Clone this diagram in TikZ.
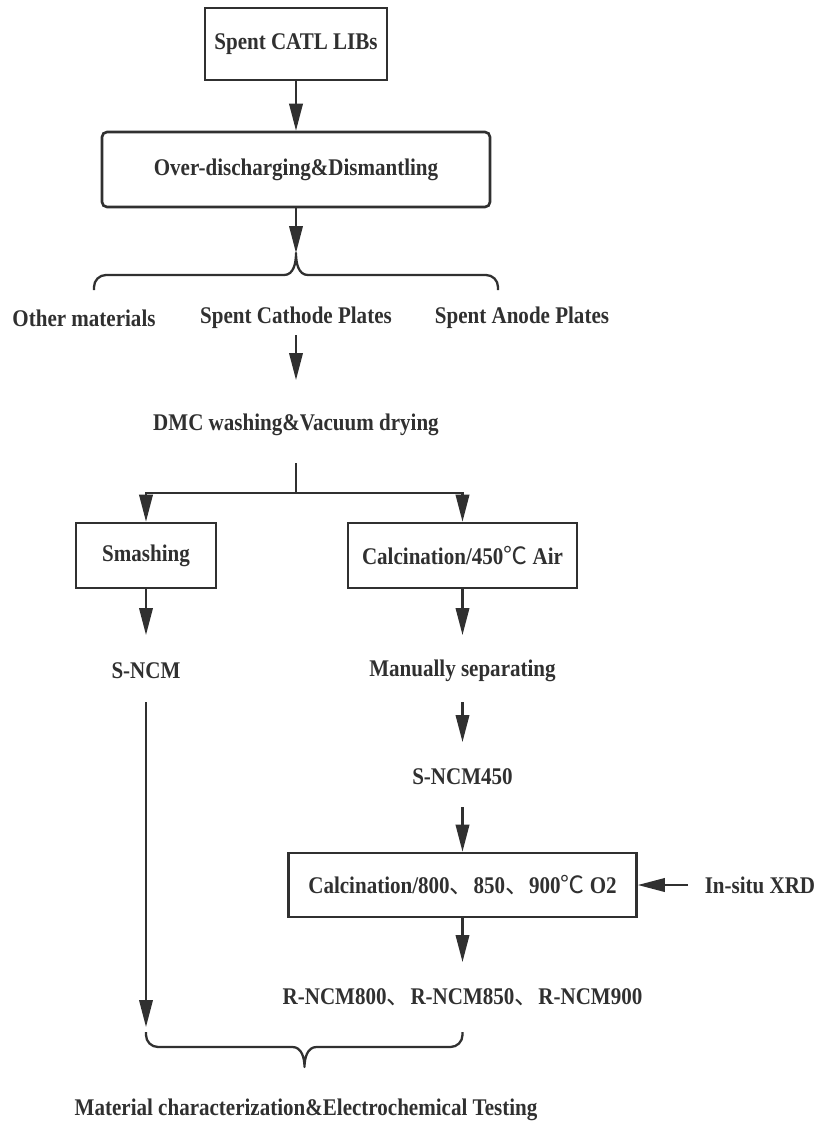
\documentclass[tikz,border=0pt]{standalone}
\usepackage{fontspec}
\setmainfont{Liberation Serif}[FakeStretch=0.88]
\newfontfamily\cjk{Noto Sans CJK SC}
\usetikzlibrary{arrows.meta}

\begin{document}
\begin{tikzpicture}[
  boxProc/.style={draw=colInk, line width=1.5pt, minimum height=1.30cm, inner sep=0pt,
    font=\fontsize{13.6}{15}\selectfont\bfseries, text=colInk},
  lbl/.style={inner sep=0pt, font=\fontsize{13.6}{15}\selectfont\bfseries, text=colInk},
  arr/.style={draw=colInk, line width=1.2pt, -{Triangle[length=0.54cm,width=0.27cm]}},
  brc/.style={draw=colInk, line width=1.3pt, line join=round}
]

% Colori
\definecolor{colInk}{HTML}{303030}

% Contorno
\useasboundingbox (0,0) rectangle (16.38,-22.48);

% Smontaggio
\node[boxProc, minimum width=3.64cm, minimum height=1.44cm] (libs) at (5.92,-0.88) {Spent CATL LIBs};
\node[boxProc, rounded corners=0.1cm, minimum width=7.76cm, minimum height=1.50cm] (dism) at (5.92,-3.39) {Over-discharging\&Dismantling};
\draw[arr] (libs) -- (dism);

% Graffa superiore
\coordinate (apice) at (5.92,-5.06);
\draw[arr] (dism) -- (apice);
\draw[brc] (1.88,-5.80) -- (1.88,-5.74) to[out=90,in=180] (2.12,-5.50) -- (5.68,-5.50)
  to[out=0,in=-90] (apice) to[out=-90,in=180] (6.16,-5.50) -- (9.72,-5.50)
  to[out=0,in=90] (9.96,-5.74) -- (9.96,-5.80);

% Componenti
\node[lbl] (other) at (1.68,-6.36) {Other materials};
\node[lbl] (cathode) at (5.92,-6.36) {Spent Cathode Plates};
\node[lbl] (anode) at (10.44,-6.36) {Spent Anode Plates};

% Lavaggio
\node[lbl] (dmc) at (5.92,-8.50) {DMC washing\&Vacuum drying};
\draw[arr, shorten <=0.34cm, shorten >=0.90cm] (cathode.center) -- (dmc.center);

% Diramazione
\coordinate (split) at (5.92,-9.86);
\node[boxProc, minimum width=2.80cm] (smash) at (2.92,-11.11) {Smashing};
\node[boxProc, minimum width=4.58cm] (calc) at (9.25,-11.11) {Calcination/450{\cjk\mdseries ℃} Air};
\draw[draw=colInk, line width=1.2pt, shorten <=0.76cm] (dmc.center) -- (split);
\draw[arr] (split) -| (smash);
\draw[arr] (split) -| (calc);

% Ramo sinistro
\node[lbl] (sncm) at (2.92,-13.42) {S-NCM};
\draw[arr, shorten >=0.72cm] (smash) -- (sncm.center);
\coordinate (fineSx) at (2.92,-20.54);
\draw[arr, shorten <=0.62cm] (sncm.center) -- (fineSx);

% Ramo destro
\node[lbl] (manual) at (9.25,-13.42) {Manually separating};
\draw[arr, shorten >=0.72cm] (calc) -- (manual.center);
\node[lbl] (sncm450) at (9.25,-15.54) {S-NCM450};
\draw[arr, shorten <=0.62cm, shorten >=0.70cm] (manual.center) -- (sncm450.center);
\node[boxProc, minimum width=6.96cm, minimum height=1.28cm] (calc2) at (9.25,-17.70) {Calcination/800{\cjk\mdseries 、}850{\cjk\mdseries 、}900{\cjk\mdseries ℃} O2};
\draw[arr, shorten <=0.60cm] (sncm450.center) -- (calc2);
\node[lbl] (xrd) at (15.20,-17.70) {In-situ XRD};
\draw[arr, shorten <=1.44cm] (xrd.center) -- (calc2);
\node[lbl] (rncm) at (9.25,-19.94) {R-NCM800{\cjk\mdseries 、}R-NCM850{\cjk\mdseries 、}R-NCM900};
\draw[arr, shorten >=0.70cm] (calc2) -- (rncm.center);

% Graffa inferiore
\coordinate (punta) at (6.09,-21.34);
\draw[brc] (2.92,-20.64) -- (2.92,-20.70) to[out=-90,in=180] (3.16,-20.94) -- (5.85,-20.94)
  to[out=0,in=90] (punta) to[out=90,in=180] (6.33,-20.94) -- (9.01,-20.94)
  to[out=0,in=-90] (9.25,-20.70) -- (9.25,-20.64);

% Risultato
\node[lbl] (final) at (6.12,-22.20) {Material characterization\&Electrochemical Testing};

\end{tikzpicture}
\end{document}
